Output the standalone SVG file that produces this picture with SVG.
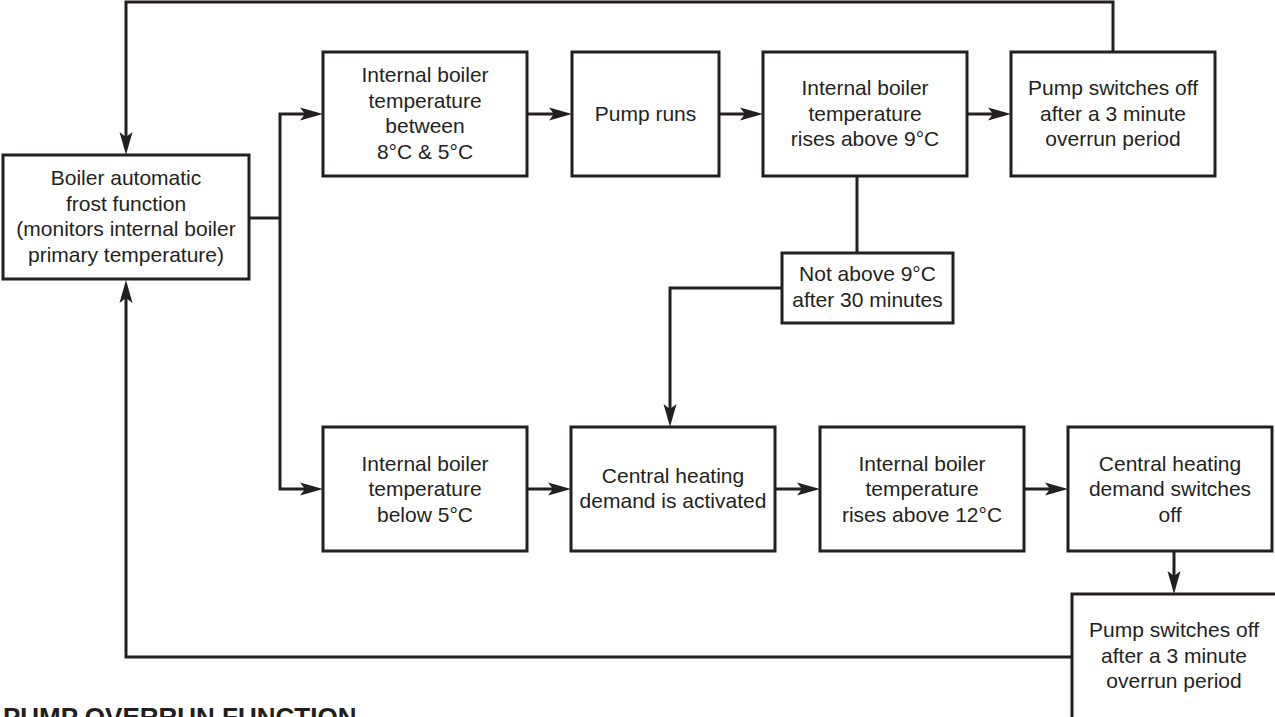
<svg xmlns="http://www.w3.org/2000/svg" width="1275" height="717" viewBox="0 0 1275 717">
<style>
.box{fill:#fff;stroke:#231f20;stroke-width:3}
.t{font-family:"Liberation Sans",Arial,sans-serif;font-size:21px;fill:#231f20;text-anchor:middle}
.c{fill:none;stroke:#231f20;stroke-width:3}
.a{marker-end:url(#arr)}
.title{font-family:"Liberation Sans",Arial,sans-serif;font-size:26px;font-weight:bold;fill:#231f20}
</style>
<defs>
<marker id="arr" markerUnits="userSpaceOnUse" markerWidth="23" markerHeight="13" refX="13" refY="6.5" orient="auto" overflow="visible">
<path d="M0,0 L23,6.5 L0,13 L5,6.5 Z" fill="#231f20"/>
</marker>
</defs>
<rect width="1275" height="717" fill="#fff"/>
<g id="connectors">
<path class="c a" d="M1113,52 V2 H126 V145"/>
<path class="c a" d="M1072,657 H126 V290"/>
<path class="c" d="M249,218 H280"/>
<path class="c a" d="M280,218 V114 H313"/>
<path class="c a" d="M280,218 V489 H313"/>
<path class="c a" d="M527,114 H562"/>
<path class="c a" d="M719,114 H753"/>
<path class="c a" d="M967,114 H1001"/>
<path class="c" d="M857,176 V253"/>
<path class="c a" d="M782,288 H670 V417"/>
<path class="c a" d="M527,489 H561"/>
<path class="c a" d="M775,489 H810"/>
<path class="c a" d="M1024,489 H1058"/>
<path class="c a" d="M1174,551 V584"/>
</g>
<g id="boiler">
<rect class="box" x="3" y="155" width="246" height="124"/>
<text class="t"><tspan x="126" y="185">Boiler automatic</tspan><tspan x="126" y="210.5">frost function</tspan><tspan x="126" y="236">(monitors internal boiler</tspan><tspan x="126" y="261.5">primary temperature)</tspan></text>
</g>
<g id="between">
<rect class="box" x="323" y="52" width="204" height="124"/>
<text class="t"><tspan x="425" y="82">Internal boiler</tspan><tspan x="425" y="107.5">temperature</tspan><tspan x="425" y="133">between</tspan><tspan x="425" y="158.5">8°C &amp; 5°C</tspan></text>
</g>
<g id="pumpruns">
<rect class="box" x="572" y="52" width="147" height="124"/>
<text class="t"><tspan x="645.5" y="120.5">Pump runs</tspan></text>
</g>
<g id="rises9">
<rect class="box" x="763" y="52" width="204" height="124"/>
<text class="t"><tspan x="865" y="95">Internal boiler</tspan><tspan x="865" y="120.5">temperature</tspan><tspan x="865" y="146">rises above 9°C</tspan></text>
</g>
<g id="pumpoff1">
<rect class="box" x="1011" y="52" width="204" height="124"/>
<text class="t"><tspan x="1113" y="95">Pump switches off</tspan><tspan x="1113" y="120.5">after a 3 minute</tspan><tspan x="1113" y="146">overrun period</tspan></text>
</g>
<g id="notabove">
<rect class="box" x="782" y="253" width="171" height="70"/>
<text class="t"><tspan x="867.5" y="281">Not above 9°C</tspan><tspan x="867.5" y="306.5">after 30 minutes</tspan></text>
</g>
<g id="below5">
<rect class="box" x="323" y="427" width="204" height="124"/>
<text class="t"><tspan x="425" y="470.5">Internal boiler</tspan><tspan x="425" y="496">temperature</tspan><tspan x="425" y="521.5">below 5°C</tspan></text>
</g>
<g id="chactivated">
<rect class="box" x="571" y="427" width="204" height="124"/>
<text class="t"><tspan x="673" y="482.5">Central heating</tspan><tspan x="673" y="508">demand is activated</tspan></text>
</g>
<g id="rises12">
<rect class="box" x="820" y="427" width="204" height="124"/>
<text class="t"><tspan x="922" y="470.5">Internal boiler</tspan><tspan x="922" y="496">temperature</tspan><tspan x="922" y="521.5">rises above 12°C</tspan></text>
</g>
<g id="choff">
<rect class="box" x="1068" y="427" width="204" height="124"/>
<text class="t"><tspan x="1170" y="470.5">Central heating</tspan><tspan x="1170" y="496">demand switches</tspan><tspan x="1170" y="521.5">off</tspan></text>
</g>
<g id="pumpoff2">
<rect class="box" x="1072" y="594" width="205" height="130"/>
<text class="t"><tspan x="1174" y="637">Pump switches off</tspan><tspan x="1174" y="662.5">after a 3 minute</tspan><tspan x="1174" y="688">overrun period</tspan></text>
</g>
<text class="title" x="3" y="726">PUMP OVERRUN FUNCTION</text>
</svg>
